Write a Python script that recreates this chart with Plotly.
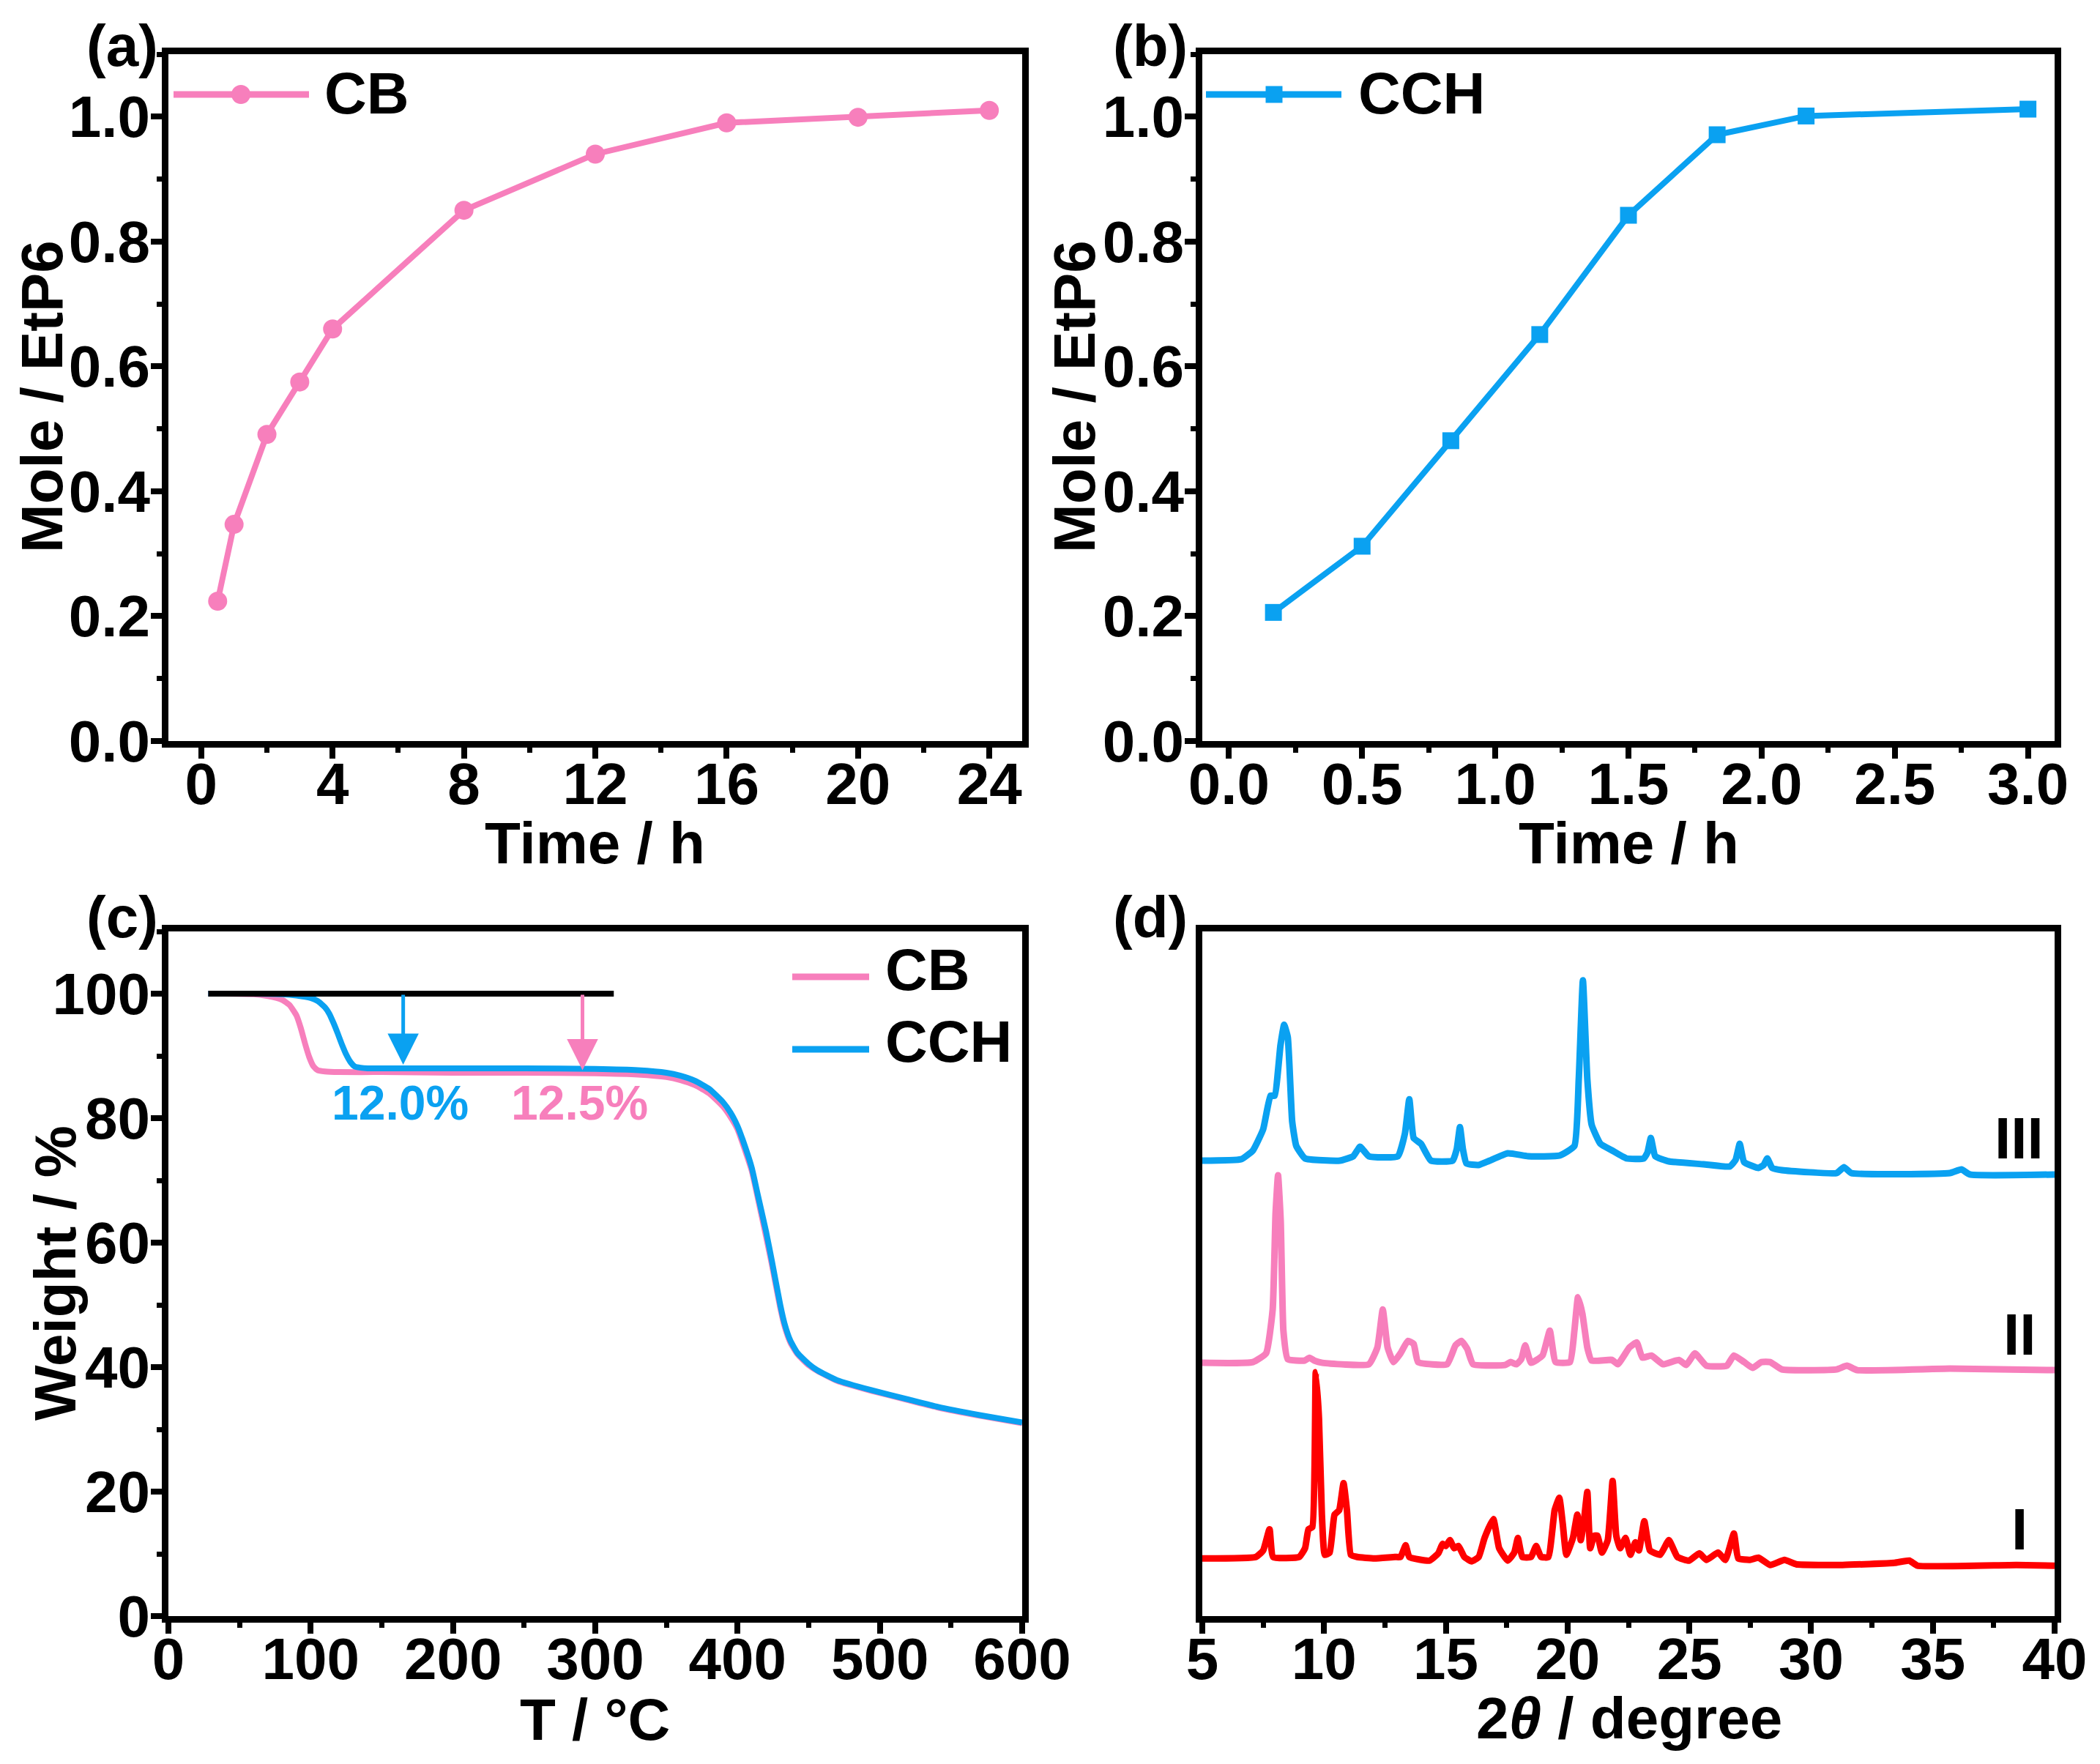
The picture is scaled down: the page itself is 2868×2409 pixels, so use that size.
import plotly.graph_objects as go

W, H = 2868, 2409
PINK = "#F77FBC"
BLUE = "#0AA1F1"
RED = "#FF0000"
FONT = "Liberation Sans"

# ---------------- (a) CB uptake ----------------
cb_time = [0.5, 1, 2, 3, 4, 8, 12, 16, 20, 24]
cb_mole = [0.224, 0.347, 0.491, 0.575, 0.660, 0.850, 0.940, 0.990, 0.999, 1.010]

# ---------------- (b) CCH uptake ----------------
cch_time = [0.167, 0.5, 0.833, 1.167, 1.5, 1.833, 2.167, 3.0]
cch_mole = [0.206, 0.312, 0.481, 0.651, 0.842, 0.971, 1.001, 1.012]

# ---------------- (c) TGA ----------------
tga_cb_T = [28, 40, 60, 70, 80, 85, 90, 93, 96, 99, 102, 105, 110, 120, 150, 200, 250,
            300, 330, 350, 360, 370, 380, 390, 395, 400, 405, 410, 414, 420, 424, 430,
            433, 437, 442, 450, 456, 470, 494, 520, 541, 570, 600]
tga_cb_W = [100, 100, 99.9, 99.6, 99.0, 98.2, 96.5, 94.5, 92.0, 89.8, 88.3, 87.7, 87.5,
            87.4, 87.4, 87.3, 87.3, 87.2, 87.0, 86.6, 86.1, 85.3, 84.0, 81.8, 80.2, 78.2,
            75.0, 71.5, 67.4, 61.0, 56.6, 49.5, 46.6, 44.0, 42.1, 40.3, 39.4, 37.8, 36.2,
            34.7, 33.5, 32.2, 31.0]
tga_cch_T = [28, 40, 60, 80, 90, 100, 105, 110, 113, 116, 119, 122, 125, 128, 131, 135,
             140, 150, 200, 250, 300, 330, 350, 360, 370, 380, 390, 395, 400, 405, 410,
             414, 420, 424, 430, 433, 437, 442, 450, 456, 470, 494, 520, 541, 570, 600]
tga_cch_W = [100, 100, 100, 99.9, 99.7, 99.3, 98.8, 97.8, 96.8, 95.3, 93.6, 91.8, 90.2,
             89.0, 88.3, 88.1, 88.0, 88.0, 88.0, 88.0, 87.9, 87.7, 87.3, 86.8, 86.0, 84.7,
             82.5, 80.9, 78.7, 75.6, 72.0, 67.9, 61.8, 57.2, 50.0, 47.0, 44.3, 42.3, 40.5,
             39.5, 37.9, 36.3, 34.8, 33.6, 32.3, 31.1]
ref_line_T = [28, 313]
ref_line_W = 100
loss_labels = ["12.0%", "12.5%"]
loss_T = [165, 291]
loss_end = [88.6, 87.7]
loss_label_W = 82.5

# ---------------- (d) PXRD (offset, a.u.) ----------------
xrd3_x = [5.0, 6.6, 7.08, 7.5, 7.8, 7.97, 8.21, 8.36, 8.51, 8.69, 8.86, 9.22,
          10.65, 11.2, 11.48, 11.84, 13.03, 13.32, 13.5, 13.68, 13.98, 14.39,
          15.28, 15.45, 15.58, 15.7, 15.85, 16.35, 17.54, 18.38, 19.68,
          20.28, 20.46, 20.63, 20.81, 20.99, 21.35, 21.82, 22.42, 23.13,
          23.28, 23.42, 23.6, 24.16, 25.58, 26.66, 26.9, 27.07, 27.25,
          27.84, 28.05, 28.2, 28.4, 28.8, 31.05, 31.35, 31.65, 35.7, 36.17, 36.52, 40.0]
xrd3_y = [624, 626, 638, 667, 713, 713, 782, 810, 793, 678, 644, 627,
          624, 630, 643, 630, 630, 661, 708, 655, 647, 624,
          624, 640, 670, 640, 620, 618, 634, 630, 631,
          644, 736, 871, 736, 673, 647, 638, 627, 627,
          635, 655, 630, 623, 619, 616, 625, 647, 622,
          614, 618, 627, 614, 611, 607, 615, 607, 607, 612, 605, 605]

xrd2_x = [5.0, 7.08, 7.62, 7.89, 8.01, 8.11, 8.22, 8.33, 8.51, 9.2, 9.4, 9.6, 9.93,
          11.84, 12.19, 12.41, 12.61, 12.85, 13.14, 13.44, 13.68, 13.86,
          15.05, 15.4, 15.64, 15.88, 16.12, 17.43, 17.66, 17.9, 18.1, 18.26, 18.5,
          18.97, 19.27, 19.51, 20.1, 20.28, 20.43, 20.61, 20.81, 20.99,
          21.82, 22.06, 22.54, 22.84, 23.07, 23.44, 23.92, 24.57, 24.87, 25.23, 25.7,
          26.54, 26.83, 27.25, 27.6, 27.96, 28.32, 28.8, 31.05, 31.47, 31.89, 35.7, 40.0]
xrd2_y = [347, 348, 360, 420, 552, 604, 541, 391, 352, 350, 354, 350, 347,
          345, 368, 420, 368, 348, 360, 377, 373, 348,
          345, 371, 377, 366, 345, 344, 348, 345, 352, 371, 347,
          357, 391, 348, 348, 391, 437, 414, 368, 350,
          351, 345, 368, 375, 354, 357, 345, 351, 344, 360, 343,
          343, 357, 348, 340, 348, 348, 338, 338, 343, 337, 339, 337]

xrd1_x = [5.0, 7.2, 7.5, 7.76, 7.91, 8.98, 9.22, 9.36, 9.52, 9.66, 9.79, 9.91, 10.03,
          10.23, 10.43, 10.62, 10.8, 10.94, 11.1, 11.36, 12.07, 12.91, 13.14, 13.35,
          13.5, 14.33, 14.69, 14.87, 15.0, 15.17, 15.34, 15.52, 15.76, 16.06, 16.35,
          16.59, 16.95, 17.19, 17.54, 17.81, 17.96, 18.14, 18.5, 18.71, 18.91, 19.21,
          19.47, 19.66, 19.8, 19.95, 20.22, 20.4, 20.54, 20.66, 20.81, 20.93, 21.09,
          21.23, 21.41, 21.65, 21.85, 22.0, 22.16, 22.38, 22.58, 22.78, 22.93, 23.15,
          23.38, 23.8, 24.16, 24.51, 24.99, 25.41, 25.7, 26.18, 26.48, 26.83, 27.01,
          27.49, 27.84, 28.32, 28.91, 29.39, 31.29, 33.43, 34.03, 34.38, 38.43, 40.0]
xrd1_y = [79, 81, 90, 119, 81, 81, 93, 119, 122, 334, 271, 139, 84,
          87, 139, 145, 182, 145, 84, 81, 79, 81, 81, 97,
          81, 76, 86, 99, 96, 104, 93, 96, 81, 75, 81,
          107, 133, 93, 76, 87, 107, 81, 81, 96, 81, 81,
          145, 162, 127, 84, 107, 139, 104, 127, 170, 93, 110,
          110, 87, 104, 185, 110, 93, 107, 84, 101, 90, 130,
          90, 84, 104, 81, 76, 86, 77, 87, 77, 113, 79,
          77, 80, 70, 77, 71, 70, 73, 76, 69, 70, 69]
xrd_names = ["I", "II", "III"]
xrd_label_y = [119, 386, 655]
xrd_label_x = 38.55

# ---------------- layout helpers ----------------
OFF = 8  # page offset of the plot div

def fx(px):
    return (px - OFF) / W

def fy(py):
    return 1 - (py - OFF) / H

LW = 9
TICKFONT = dict(family=FONT, size=80, color="black", weight="bold")
TITLEFONT = dict(family=FONT, size=80, color="black", weight="bold")

fig = go.Figure()

fig.add_trace(go.Scatter(x=cb_time, y=cb_mole, mode="lines+markers", name="CB",
                         line=dict(color=PINK, width=8),
                         marker=dict(symbol="circle", size=26, color=PINK),
                         xaxis="x", yaxis="y", showlegend=False))
fig.add_trace(go.Scatter(x=cch_time, y=cch_mole, mode="lines+markers", name="CCH",
                         line=dict(color=BLUE, width=8),
                         marker=dict(symbol="square", size=23, color=BLUE),
                         xaxis="x2", yaxis="y2", showlegend=False))
fig.add_trace(go.Scatter(x=tga_cb_T, y=tga_cb_W, mode="lines", name="CB",
                         line=dict(color=PINK, width=8, shape="spline", smoothing=0.5),
                         xaxis="x3", yaxis="y3", showlegend=False))
fig.add_trace(go.Scatter(x=tga_cch_T, y=tga_cch_W, mode="lines", name="CCH",
                         line=dict(color=BLUE, width=8, shape="spline", smoothing=0.5),
                         xaxis="x3", yaxis="y3", showlegend=False))
for xs, ys, c, n in [(xrd1_x, xrd1_y, RED, "I"), (xrd2_x, xrd2_y, PINK, "II"),
                     (xrd3_x, xrd3_y, BLUE, "III")]:
    fig.add_trace(go.Scatter(x=xs, y=ys, mode="lines", name=n,
                             line=dict(color=c, width=9, shape="spline", smoothing=0.4),
                             xaxis="x4", yaxis="y4", showlegend=False))

def axis_common(xdir=True):
    return dict(showline=True, linewidth=LW, linecolor="black", mirror=True,
                ticks="outside", ticklen=15, tickwidth=8, tickcolor="black",
                showgrid=False, zeroline=False, tickfont=TICKFONT, automargin=False,
                ticklabelstandoff=(-34 if xdir else -15))

xa_dom = [fx(230), fx(1396)]
xb_dom = [fx(1642), fx(2806)]
yt_dom = [fy(1012), fy(74)]
yb_dom = [fy(2207), fy(1272)]

def minor(d):
    return dict(dtick=d, ticks="outside", ticklen=7, tickwidth=7, tickcolor="black")

fig.update_layout(
    width=W, height=H, margin=dict(l=0, r=0, t=0, b=0, autoexpand=False),
    paper_bgcolor="white", plot_bgcolor="white", showlegend=False,
    xaxis=dict(**axis_common(), domain=xa_dom, range=[-1, 25], dtick=4, tick0=0,
               minor=minor(2), anchor="y"),
    yaxis=dict(**axis_common(False), domain=yt_dom, range=[0, 1.1], dtick=0.2, tick0=0,
               tickformat=".1f", minor=minor(0.1), anchor="x"),
    xaxis2=dict(**axis_common(), domain=xb_dom, range=[-0.1, 3.1], dtick=0.5, tick0=0,
                tickformat=".1f", minor=minor(0.25), anchor="y2"),
    yaxis2=dict(**axis_common(False), domain=yt_dom, range=[0, 1.1], dtick=0.2, tick0=0,
                tickformat=".1f", minor=minor(0.1), anchor="x2"),
    xaxis3=dict(**axis_common(), domain=xa_dom, range=[0, 600], dtick=100, tick0=0,
                minor=minor(50), anchor="y3"),
    yaxis3=dict(**axis_common(False), domain=yb_dom, range=[0, 110], dtick=20, tick0=0,
                minor=minor(10), anchor="x3"),
    xaxis4=dict(**axis_common(), domain=xb_dom, range=[5, 40], dtick=5, tick0=5,
                minor=minor(2.5), anchor="y4"),
    yaxis4=dict(showline=True, linewidth=LW, linecolor="black", mirror=True,
                ticks="", showticklabels=False, showgrid=False, zeroline=False,
                automargin=False, domain=yb_dom, range=[0, 938], anchor="x4"),
)

ann = []
# axis titles
for txt, px, py in [("Mole / EtP6", 57, 542), ("Mole / EtP6", 1467, 542),
                    ("Weight / %", 75, 1739)]:
    ann.append(dict(text=txt, xref="paper", yref="paper", x=fx(px), y=fy(py),
                    textangle=-90, showarrow=False, font=TITLEFONT,
                    xanchor="center", yanchor="middle"))
for txt, px, py in [("Time / h", 812, 1151), ("Time / h", 2224, 1151),
                    ("T / °C", 812, 2348), ("2<i>θ</i> / degree", 2225, 2346)]:
    ann.append(dict(text=txt, xref="paper", yref="paper", x=fx(px), y=fy(py),
                    showarrow=False, font=TITLEFONT, xanchor="center", yanchor="middle"))
# panel labels
for txt, px, py in [("(a)", 167, 63), ("(b)", 1571, 63), ("(c)", 167, 1252), ("(d)", 1571, 1252)]:
    ann.append(dict(text=txt, xref="paper", yref="paper", x=fx(px), y=fy(py),
                    showarrow=False, font=TITLEFONT, xanchor="center", yanchor="middle"))

shapes = []
# legend (a)
shapes.append(dict(type="line", xref="paper", yref="paper", x0=fx(237), x1=fx(422),
                   y0=fy(129), y1=fy(129), line=dict(color=PINK, width=9)))
shapes.append(dict(type="circle", xref="paper", yref="paper", xsizemode="pixel", ysizemode="pixel",
                   xanchor=fx(329), yanchor=fy(129), x0=-13, x1=13, y0=-13, y1=13,
                   fillcolor=PINK, line=dict(width=0)))
ann.append(dict(text="CB", xref="paper", yref="paper", x=fx(441), y=fy(128), showarrow=False,
                font=TITLEFONT, xanchor="left", yanchor="middle"))
# legend (b)
shapes.append(dict(type="line", xref="paper", yref="paper", x0=fx(1647), x1=fx(1832),
                   y0=fy(129), y1=fy(129), line=dict(color=BLUE, width=9)))
shapes.append(dict(type="rect", xref="paper", yref="paper", xsizemode="pixel", ysizemode="pixel",
                   xanchor=fx(1740), yanchor=fy(129), x0=-11.5, x1=11.5, y0=-11.5, y1=11.5,
                   fillcolor=BLUE, line=dict(width=0)))
ann.append(dict(text="CCH", xref="paper", yref="paper", x=fx(1853), y=fy(128), showarrow=False,
                font=TITLEFONT, xanchor="left", yanchor="middle"))
# legend (c)
for c, txt, py_line, py_text in [(PINK, "CB", 1334, 1324), (BLUE, "CCH", 1433, 1422)]:
    shapes.append(dict(type="line", xref="paper", yref="paper", x0=fx(1082), x1=fx(1187),
                       y0=fy(py_line), y1=fy(py_line), line=dict(color=c, width=9)))
    ann.append(dict(text=txt, xref="paper", yref="paper", x=fx(1207), y=fy(py_text),
                    showarrow=False, font=TITLEFONT, xanchor="left", yanchor="middle"))

# (c) reference line and mass-loss arrows
shapes.append(dict(type="line", xref="x3", yref="y3", x0=ref_line_T[0], x1=ref_line_T[1],
                   y0=ref_line_W, y1=ref_line_W, line=dict(color="black", width=8)))
for txt, t, w_end, c in zip(loss_labels, loss_T, loss_end, [BLUE, PINK]):
    ann.append(dict(x=t, y=w_end, ax=t, ay=ref_line_W, xref="x3", yref="y3",
                    axref="x3", ayref="y3", showarrow=True, arrowhead=2, arrowsize=1.7,
                    arrowwidth=5, arrowcolor=c, text=""))
    ann.append(dict(text=txt, x=t - 2, y=loss_label_W, xref="x3", yref="y3", showarrow=False,
                    font=dict(family=FONT, size=66, color=c, weight="bold"),
                    xanchor="center", yanchor="middle"))

# (d) pattern labels
for n, yl in zip(xrd_names, xrd_label_y):
    ann.append(dict(text=n, x=xrd_label_x, y=yl, xref="x4", yref="y4", showarrow=False,
                    font=TITLEFONT, xanchor="center", yanchor="middle"))

fig.update_layout(annotations=ann, shapes=shapes)
fig.write_html("out.html")
